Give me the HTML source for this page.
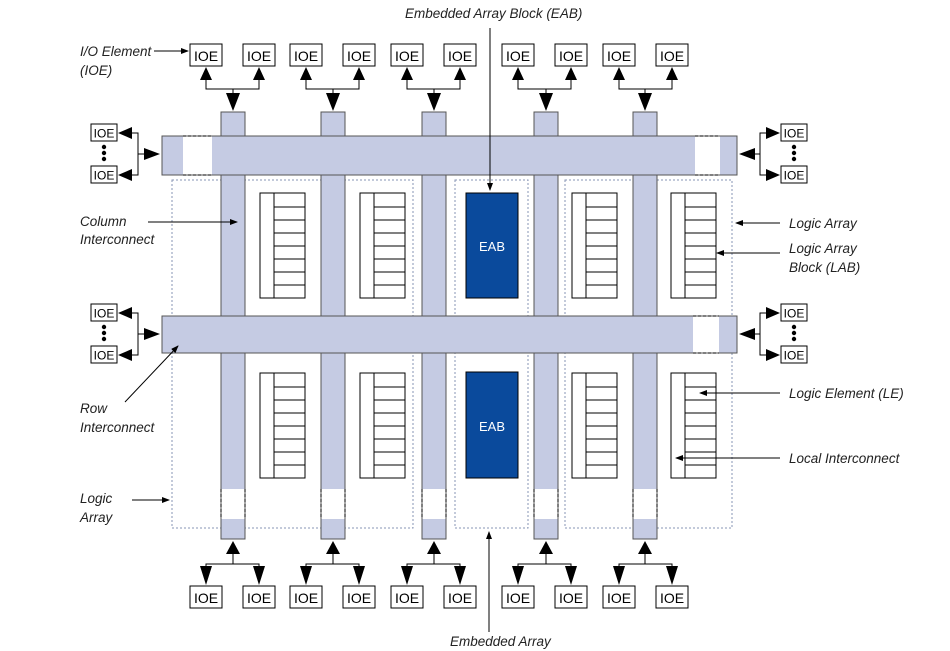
<!DOCTYPE html>
<html><head><meta charset="utf-8"><style>
body{margin:0;background:#fff}
svg{display:block}
text{font-family:"Liberation Sans",sans-serif}
.l{font-style:italic;font-size:13.5px;fill:#222}
.io{font-size:14px;fill:#000}
</style></head><body>
<svg width="950" height="651" viewBox="0 0 950 651" xmlns="http://www.w3.org/2000/svg">
<defs>
<marker id="a" markerWidth="8" markerHeight="6" refX="7" refY="3" orient="auto" markerUnits="userSpaceOnUse"><path d="M0,0 L8,3 L0,6 z" fill="#000"/></marker>
<g id="lab"><rect x="0" y="0" width="45" height="105" fill="#fff" stroke="#000"/><path d="M14,0V105M14,14H45M14,27H45M14,40H45M14,53H45M14,66H45M14,79H45M14,92H45" stroke="#000" fill="none"/></g>
<g id="tio"><rect x="0" y="0" width="32" height="22" fill="#fff" stroke="#000"/><text x="16" y="17" text-anchor="middle" class="io">IOE</text></g>
<g id="sio"><rect x="0" y="0" width="26" height="17" fill="#fff" stroke="#000"/><text x="13" y="13.5" text-anchor="middle" class="io" style="font-size:12px">IOE</text></g>
</defs>
<!-- dotted regions -->
<g fill="none" stroke="#8794b4" stroke-dasharray="2,2">
<rect x="172" y="180" width="241" height="348"/>
<rect x="455" y="180" width="73" height="348"/>
<rect x="565" y="180" width="167" height="348"/>
</g>
<!-- columns -->
<g fill="#c5cbe3" stroke="#555">
<rect x="221" y="112" width="24" height="427"/>
<rect x="321" y="112" width="24" height="427"/>
<rect x="422" y="112" width="24" height="427"/>
<rect x="534" y="112" width="24" height="427"/>
<rect x="633" y="112" width="24" height="427"/>
</g>
<g fill="#fff"><rect x="221.5" y="489" width="23" height="30"/><rect x="321.5" y="489" width="23" height="30"/><rect x="422.5" y="489" width="23" height="30"/><rect x="534.5" y="489" width="23" height="30"/><rect x="633.5" y="489" width="23" height="30"/></g>
<g stroke="#000" stroke-dasharray="3,2"><path d="M221,489V519M245,489V519M321,489V519M345,489V519M422,489V519M446,489V519M534,489V519M558,489V519M633,489V519M657,489V519"/></g>
<!-- rows -->
<rect x="162" y="136" width="575" height="39" fill="#c5cbe3" stroke="#555"/>
<rect x="183" y="136.5" width="29" height="38" fill="#fff"/><rect x="695" y="136.5" width="25" height="38" fill="#fff"/>
<rect x="162" y="316" width="575" height="37" fill="#c5cbe3" stroke="#555"/>
<rect x="693" y="316.5" width="26" height="36" fill="#fff"/>
<g stroke="#000" stroke-dasharray="3,2"><path d="M183,136H212M183,175H212M695,136H720M695,175H720M693,316H719M693,353H719"/></g>
<!-- LABs -->
<use href="#lab" x="260" y="193"/><use href="#lab" x="360" y="193"/><use href="#lab" x="572" y="193"/><use href="#lab" x="671" y="193"/>
<use href="#lab" x="260" y="373"/><use href="#lab" x="360" y="373"/><use href="#lab" x="572" y="373"/><use href="#lab" x="671" y="373"/>
<rect x="466" y="193" width="52" height="105" fill="#0a4a9c" stroke="#000"/><text x="492" y="251" text-anchor="middle" font-size="13" fill="#fff">EAB</text>
<rect x="466" y="372" width="52" height="106" fill="#0a4a9c" stroke="#000"/><text x="492" y="431" text-anchor="middle" font-size="13" fill="#fff">EAB</text>
<!-- top IOEs -->
<use href="#tio" x="190" y="44"/><use href="#tio" x="243" y="44"/><use href="#tio" x="290" y="44"/><use href="#tio" x="343" y="44"/><use href="#tio" x="391" y="44"/><use href="#tio" x="444" y="44"/><use href="#tio" x="502" y="44"/><use href="#tio" x="555" y="44"/><use href="#tio" x="603" y="44"/><use href="#tio" x="656" y="44"/>
<use href="#tio" x="190" y="586"/><use href="#tio" x="243" y="586"/><use href="#tio" x="290" y="586"/><use href="#tio" x="343" y="586"/><use href="#tio" x="391" y="586"/><use href="#tio" x="444" y="586"/><use href="#tio" x="502" y="586"/><use href="#tio" x="555" y="586"/><use href="#tio" x="603" y="586"/><use href="#tio" x="656" y="586"/>
<!-- top connectors -->
<g stroke="#000" fill="none">
<path d="M206,80V89H259V80M233,89V93"/><path d="M306,80V89H359V80M333,89V93"/><path d="M407,80V89H460V80M434,89V93"/><path d="M518,80V89H571V80M546,89V93"/><path d="M619,80V89H672V80M645,89V93"/>
<path d="M206,566V564H259V566M233,564V554"/><path d="M306,566V564H359V566M333,564V554"/><path d="M407,566V564H460V566M434,564V554"/><path d="M518,566V564H571V566M546,564V554"/><path d="M619,566V564H672V566M645,564V554"/>
</g>
<g fill="#000">
<path d="M200,80L206,67L212,80zM253,80L259,67L265,80zM300,80L306,67L312,80zM353,80L359,67L365,80zM401,80L407,67L413,80zM454,80L460,67L466,80zM512,80L518,67L524,80zM565,80L571,67L577,80zM613,80L619,67L625,80zM666,80L672,67L678,80z"/>
<path d="M226,93L233,111L240,93zM326,93L333,111L340,93zM427,93L434,111L441,93zM539,93L546,111L553,93zM638,93L645,111L652,93z"/>
<path d="M226,554L233,541L240,554zM326,554L333,541L340,554zM427,554L434,541L441,554zM539,554L546,541L553,554zM638,554L645,541L652,554z"/>
<path d="M200,566L206,585L212,566zM253,566L259,585L265,566zM300,566L306,585L312,566zM353,566L359,585L365,566zM401,566L407,585L413,566zM454,566L460,585L466,566zM512,566L518,585L524,566zM565,566L571,585L577,566zM613,566L619,585L625,566zM666,566L672,585L678,566z"/>
</g>
<!-- side IOEs -->
<use href="#sio" x="91" y="124"/><use href="#sio" x="91" y="166"/><use href="#sio" x="91" y="304"/><use href="#sio" x="91" y="346"/>
<use href="#sio" x="781" y="124"/><use href="#sio" x="781" y="166"/><use href="#sio" x="781" y="304"/><use href="#sio" x="781" y="346"/>
<g fill="#000"><circle cx="104" cy="147" r="2.2"/><circle cx="104" cy="153" r="2.2"/><circle cx="104" cy="159" r="2.2"/><circle cx="104" cy="327" r="2.2"/><circle cx="104" cy="333" r="2.2"/><circle cx="104" cy="339" r="2.2"/>
<circle cx="794" cy="147" r="2.2"/><circle cx="794" cy="153" r="2.2"/><circle cx="794" cy="159" r="2.2"/><circle cx="794" cy="327" r="2.2"/><circle cx="794" cy="333" r="2.2"/><circle cx="794" cy="339" r="2.2"/></g>
<g stroke="#000" fill="none"><path d="M132,133H138V175H132M138,154H144"/><path d="M132,313H138V355H132M138,334H144"/><path d="M766,133H760V175H766M760,154H755"/><path d="M766,313H760V355H766M760,334H755"/></g>
<g fill="#000">
<path d="M132,127L118,133L132,139zM132,169L118,175L132,181zM144,148L160,154L144,160zM132,307L118,313L132,319zM132,349L118,355L132,361zM144,328L160,334L144,340z"/>
<path d="M766,127L780,133L766,139zM766,169L780,175L766,181zM755,148L739,154L755,160zM766,307L780,313L766,319zM766,349L780,355L766,361zM755,328L739,334L755,340z"/>
</g>
<!-- labels -->
<g stroke="#000" fill="none" marker-end="url(#a)">
<path d="M490,28V190"/><path d="M154,51H188"/><path d="M148,222H237"/><path d="M125,402L178,346"/><path d="M132,500H169"/><path d="M489,632V532"/>
<path d="M780,223H736"/><path d="M780,253H717"/><path d="M780,393H700"/><path d="M780,458H676"/>
</g>
<text class="l" x="405" y="18">Embedded Array Block (EAB)</text>
<text class="l" x="80" y="56">I/O Element</text><text class="l" x="80" y="75">(IOE)</text>
<text class="l" x="80" y="226">Column</text><text class="l" x="80" y="244">Interconnect</text>
<text class="l" x="80" y="413">Row</text><text class="l" x="80" y="432">Interconnect</text>
<text class="l" x="80" y="503">Logic</text><text class="l" x="80" y="522">Array</text>
<text class="l" x="450" y="646">Embedded Array</text>
<text class="l" x="789" y="228">Logic Array</text>
<text class="l" x="789" y="253">Logic Array</text><text class="l" x="789" y="272">Block (LAB)</text>
<text class="l" x="789" y="398">Logic Element (LE)</text>
<text class="l" x="789" y="463">Local Interconnect</text>
</svg>
</body></html>
